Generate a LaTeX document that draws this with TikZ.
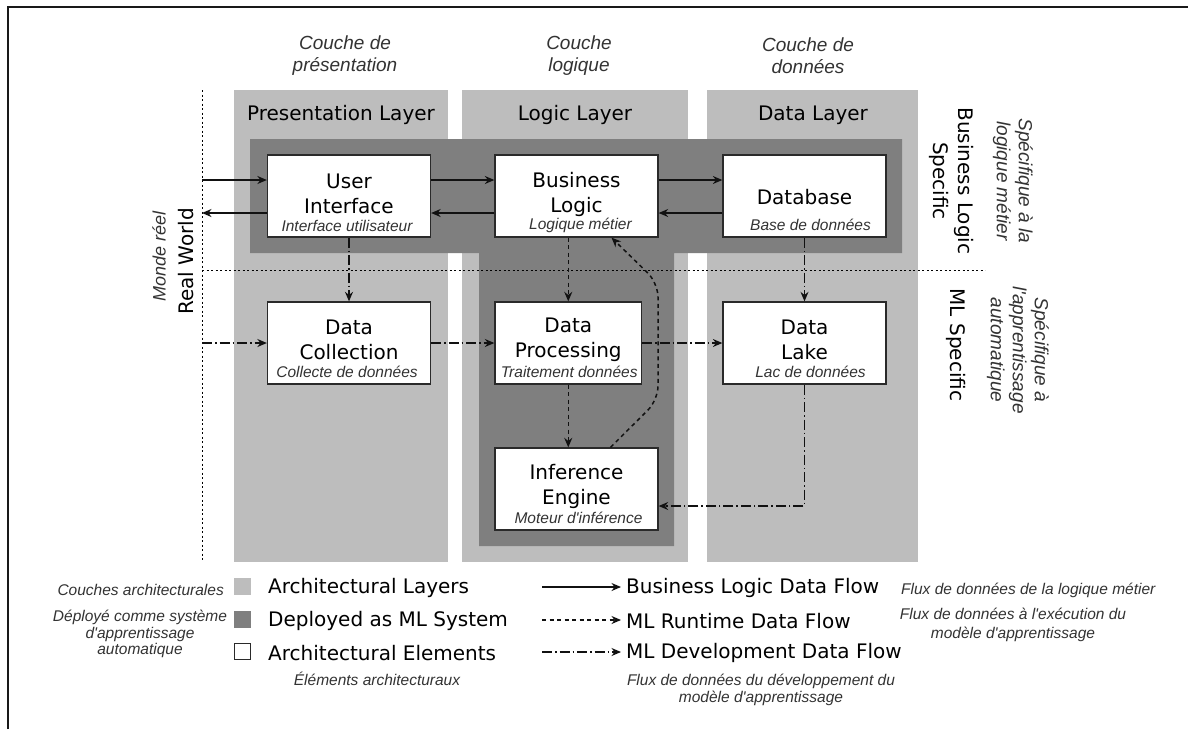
\documentclass[tikz,border=0pt]{standalone}
\usepackage{fontspec}
\setmainfont{DejaVu Sans}
\newfontfamily\itf{Liberation Sans}
\usetikzlibrary{arrows.meta}
\definecolor{laygray}{HTML}{BDBDBD}
\definecolor{mlgray}{HTML}{7F7F7F}
\definecolor{boxline}{HTML}{2A2A2A}
\definecolor{itgray}{HTML}{333333}
\definecolor{flow}{HTML}{111111}
\tikzset{
  box/.style={draw=boxline, fill=white, line width=1.3pt, inner sep=0pt},
  boxtxt/.style={inner sep=0pt, align=center, font=\fontsize{20}{25}\selectfont, text=black},
  sub/.style={inner sep=0pt, font=\itf\itshape\fontsize{15.5}{17}\selectfont, text=itgray},
  toplbl/.style={inner sep=0pt, align=center, font=\itf\itshape\fontsize{19}{22}\selectfont, text=itgray},
  laytitle/.style={inner sep=0pt, font=\fontsize{20}{25}\selectfont, text=black},
  legtxt/.style={inner sep=0pt, anchor=west, font=\fontsize{20}{25}\selectfont, text=black},
  legit/.style={inner sep=0pt, align=center, font=\itf\itshape\fontsize{15.5}{17}\selectfont, text=itgray},
  blf/.style={draw=flow, line width=1.3pt, -{Stealth[length=9.5pt,width=8pt]}},
  rtf/.style={draw=flow, line width=1.5pt, dash pattern=on 4pt off 3.5pt, -{Stealth[length=9.5pt,width=8pt]}},
  dvf/.style={draw=flow, line width=1.3pt, dash pattern=on 10pt off 3pt on 1.5pt off 3pt, -{Stealth[length=9.5pt,width=8pt]}},
  sep/.style={draw=black, line width=1pt, dash pattern=on 2pt off 2.5pt},
}
\begin{document}
\begin{tikzpicture}[x=1pt, y=-1pt]
\useasboundingbox (0,0) rectangle (1188,729);
\fill[white] (0,0) rectangle (1188,729);
% frame
\draw[line width=2pt, draw=black!90] (8,729) -- (8,7) -- (1188,7);

% layers
\fill[laygray] (234,90) rectangle (448,562);
\fill[laygray] (462,90) rectangle (688,562);
\fill[laygray] (707,90) rectangle (918,562);
% ML system
\fill[mlgray] (250,139) -- (902,139) -- (902,253) -- (674,253) -- (674,546) -- (479,546) -- (479,253) -- (250,253) -- cycle;

% top labels
\node[toplbl] (tl1) at (345,56) {Couche de\\présentation};
\node[toplbl] (tl2) at (579,56) {Couche\\logique};
\node[toplbl] (tl3) at (808,56) {Couche de\\données};

% layer titles
\node[laytitle] (lt1) at (341,115) {Presentation Layer};
\node[laytitle] (lt2) at (575,115) {Logic Layer};
\node[laytitle] (lt3) at (813,115) {Data Layer};

% separators
\coordinate (rwtop) at (202,90);
\coordinate (rwbot) at (202,562);
\draw[sep] (rwtop) -- (rwbot);
\coordinate (hs1) at (202,270);
\coordinate (hs2) at (985,270);
\draw[sep] (hs1) -- (hs2);

% left labels
\node[inner sep=0pt, rotate=90, anchor=east, font=\fontsize{20}{24}\selectfont] (rw) at (186,208) {Real World};
\node[inner sep=0pt, rotate=90, anchor=east, font=\itf\itshape\fontsize{18}{22}\selectfont, text=itgray] (mr) at (159,211) {Monde réel};

% right labels
\node[inner sep=0pt, rotate=-90, align=center, font=\fontsize{20}{25}\selectfont] (bls) at (951.5,181) {Business Logic\\Specific};
\node[toplbl, rotate=-90] (blsf) at (1013,181) {Spécifique à la\\logique métier};
\node[inner sep=0pt, rotate=-90, font=\fontsize{20}{25}\selectfont] (mls) at (956,345) {ML Specific};
\node[toplbl, rotate=-90] (mlsf) at (1018,350) {Spécifique à\\l'apprentissage\\automatique};

% boxes
\node[box, minimum width=163pt, minimum height=82pt] (UI) at (349,196) {};
\node[box, minimum width=163pt, minimum height=82pt] (BL) at (576.5,196) {};
\node[box, minimum width=163pt, minimum height=82pt] (DB) at (804.5,196) {};
\node[box, minimum width=163pt, minimum height=82pt] (DC) at (349,343) {};
\node[box, minimum width=146.5pt, minimum height=82pt] (DP) at (568.25,343) {};
\node[box, minimum width=163pt, minimum height=82pt] (DL) at (804.5,343) {};
\node[box, minimum width=163pt, minimum height=82pt] (IE) at (576.5,489) {};

\node[boxtxt] (UIt) at ([yshift=2pt]UI.center) {User\\Interface};
\node[sub] (UIs) at ([yshift=12pt,xshift=-2pt]UI.south) {Interface utilisateur};
\node[boxtxt] (BLt) at ([yshift=2pt]BL.center) {Business\\Logic};
\node[sub] (BLs) at ([yshift=12pt,xshift=4pt]BL.south) {Logique métier};
\node[boxtxt] (DBt) at ([yshift=-1pt]DB.center) {Database};
\node[sub] (DBs) at ([yshift=13pt,xshift=6pt]DB.south) {Base de données};
\node[boxtxt] (DCt) at ([yshift=3pt]DC.center) {Data\\Collection};
\node[sub] (DCs) at ([yshift=13pt,xshift=-2pt]DC.south) {Collecte de données};
\node[boxtxt] (DPt) at ([yshift=3pt]DP.center) {Data\\Processing};
\node[sub] (DPs) at ([yshift=13pt,xshift=1pt]DP.south) {Traitement données};
\node[boxtxt] (DLt) at ([yshift=3pt]DL.center) {Data\\Lake};
\node[sub] (DLs) at ([yshift=13pt,xshift=6pt]DL.south) {Lac de données};
\node[boxtxt] (IEt) at ([yshift=3pt]IE.center) {Inference\\Engine};
\node[sub] (IEs) at ([yshift=13pt,xshift=2pt]IE.south) {Moteur d'inférence};

% business logic flows
\coordinate (rwin) at (202,180);
\coordinate (rwout) at (202,213);
\coordinate (rwdev) at (202,343);
\draw[blf] (rwin) -- ([yshift=16pt]UI.west);
\draw[blf] ([yshift=-17pt]UI.west) -- (rwout);
\draw[blf] ([yshift=16pt]UI.east) -- ([yshift=16pt]BL.west);
\draw[blf] ([yshift=-17pt]BL.west) -- ([yshift=-17pt]UI.east);
\draw[blf] ([yshift=16pt]BL.east) -- ([yshift=16pt]DB.west);
\draw[blf] ([yshift=-17pt]DB.west) -- ([yshift=-17pt]BL.east);

% ML development flows
\draw[dvf] (rwdev) -- (DC.west);
\draw[dvf] (UI.south) -- (DC.north);
\draw[dvf] (DC.east) -- (DP.west);
\draw[dvf] (DP.east) -- (DL.west);
\draw[dvf] (DB.south) -- (DL.north);
\draw[dvf] (DL.south) |- ([yshift=-17pt]IE.east);

% ML runtime flows
\draw[rtf] (BL.south -| DP.north) -- (DP.north);
\draw[rtf] (DP.south) -- (DP.south |- IE.north);
\coordinate (cv1) at (658,400);
\coordinate (cv2) at (658,283);
\draw[rtf, rounded corners=14pt] ([xshift=34pt]IE.north) -- (cv1) -- (cv2) -- ([xshift=35pt]BL.south);

% legend
\fill[laygray] (234,578) rectangle (251,595);
\node[inner sep=0pt, minimum size=0pt] (lsq1) at (242.5,586.5) {};
\fill[mlgray] (234,611) rectangle (251,628);
\node[inner sep=0pt, minimum size=0pt] (lsq2) at (242.5,619.5) {};
\node[draw=boxline, fill=white, line width=1.2pt, minimum size=16pt, inner sep=0pt] (lsq3) at (242.5,651.5) {};
\node[legtxt] (lg1) at (268,588) {Architectural Layers};
\node[legtxt] (lg2) at (268,621) {Deployed as ML System};
\node[legtxt] (lg3) at (268,653) {Architectural Elements};
\node[legit, anchor=east] (lf1) at (224,590) {Couches architecturales};
\node[legit, font=\itf\itshape\fontsize{15.5}{16.5}\selectfont] (lf2) at (140,634) {Déployé comme système\\d'apprentissage\\automatique};
\node[legit] (lf3) at (377,679) {Éléments architecturaux};

\coordinate (la1s) at (542,587);
\coordinate (la1e) at (621,587);
\coordinate (la2s) at (542,620);
\coordinate (la2e) at (621,620);
\coordinate (la3s) at (542,652);
\coordinate (la3e) at (621,652);
\draw[blf] (la1s) -- (la1e);
\draw[rtf, line width=1.2pt] (la2s) -- (la2e);
\draw[dvf] (la3s) -- (la3e);
\node[legtxt] (lr1) at (626,588) {Business Logic Data Flow};
\node[legtxt] (lr2) at (626,621) {ML Runtime Data Flow};
\node[legtxt] (lr3) at (626,653) {ML Development Data Flow};
\node[legit, anchor=west] (lrf1) at (901,590) {Flux de données de la logique métier};
\node[legit, font=\itf\itshape\fontsize{15.5}{19}\selectfont] (lrf2) at (1013,625) {Flux de données à l'exécution du\\modèle d'apprentissage};
\node[legit] (lrf3) at (761,690) {Flux de données du développement du\\modèle d'apprentissage};
\end{tikzpicture}
\end{document}
